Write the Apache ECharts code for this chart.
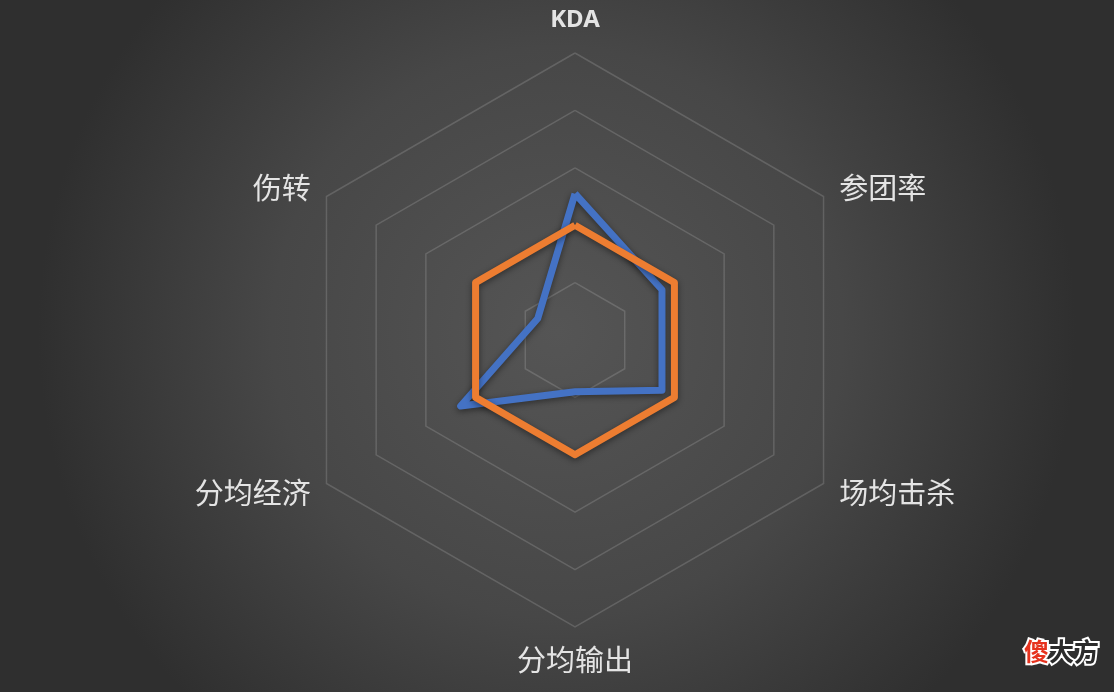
<!DOCTYPE html>
<html>
<head>
<meta charset="utf-8">
<title>radar</title>
<script src="https://cdn.jsdelivr.net/npm/echarts@6/dist/echarts.min.js"></script>
<style>
    html, body {margin: 0; padding: 0;}
    #main {width: 1114px; height: 692px;}
</style>
</head>
<body>
<div id="main"></div>
<script>
// indicators, counterclockwise from the top
var indicators = ['KDA', '伤转', '分均经济', '分均输出', '场均击杀', '参团率'];
var maxValue = 100;
var blueValues = [51, 15, 46, 18, 35, 35];
var orangeValues = [40, 40, 40, 40, 40, 40];

~function () {
    var myChart = echarts.init(document.getElementById('main'));
    var option = {
        backgroundColor: {
            type: 'radial',
            x: 0.5, y: 0.48, r: 0.75,
            colorStops: [
                {offset: 0, color: '#555555'},
                {offset: 0.55, color: '#474747'},
                {offset: 1, color: '#2f2f2f'}
            ]
        },
        radar: {
            center: [575, 340],
            radius: 287,
            shape: 'polygon',
            splitNumber: 5,
            nameGap: 18,
            indicator: indicators.map(function (n) {
                return {name: n, max: maxValue};
            }),
            axisName: {
                color: '#e4e4e4',
                fontFamily: 'Noto Sans CJK SC',
                fontSize: 29,
                formatter: function (name) {
                    return name === 'KDA' ? '{k|' + name + '}' : name;
                },
                rich: {
                    k: {
                        fontSize: 24,
                        fontWeight: 'bold',
                        color: '#e4e4e4',
                        fontFamily: 'Noto Sans',
                        padding: [0, 0, 3, 0]
                    }
                }
            },
            axisLine: {show: false},
            splitArea: {show: false},
            splitLine: {
                lineStyle: {color: 'rgba(255,255,255,0.15)', width: 1.5}
            }
        },
        series: [
            {
                type: 'radar',
                symbol: 'none',
                silent: true,
                data: [
                    {
                        value: blueValues,
                        lineStyle: {
                            color: '#4472c4', width: 7,
                            shadowColor: 'rgba(0,0,0,0.45)', shadowBlur: 6, shadowOffsetY: 2
                        }
                    },
                    {
                        value: orangeValues,
                        lineStyle: {
                            color: '#ed7d31', width: 7,
                            shadowColor: 'rgba(0,0,0,0.45)', shadowBlur: 6, shadowOffsetY: 2
                        }
                    }
                ]
            }
        ],
        graphic: [
            {
                type: 'text',
                left: 1022,
                top: 637,
                style: {
                    text: '{r|傻}大方',
                    fill: '#2b2b2b',
                    stroke: '#ffffff',
                    lineWidth: 4,
                    font: 'bold 25px "Noto Sans CJK SC"',
                    rich: {
                        r: {fill: '#e6321e', stroke: '#ffffff', lineWidth: 4, font: 'bold 25px "Noto Sans CJK SC"'}
                    }
                }
            }
        ]
    };
    myChart.setOption(option);
}();
</script>
</body>
</html>
